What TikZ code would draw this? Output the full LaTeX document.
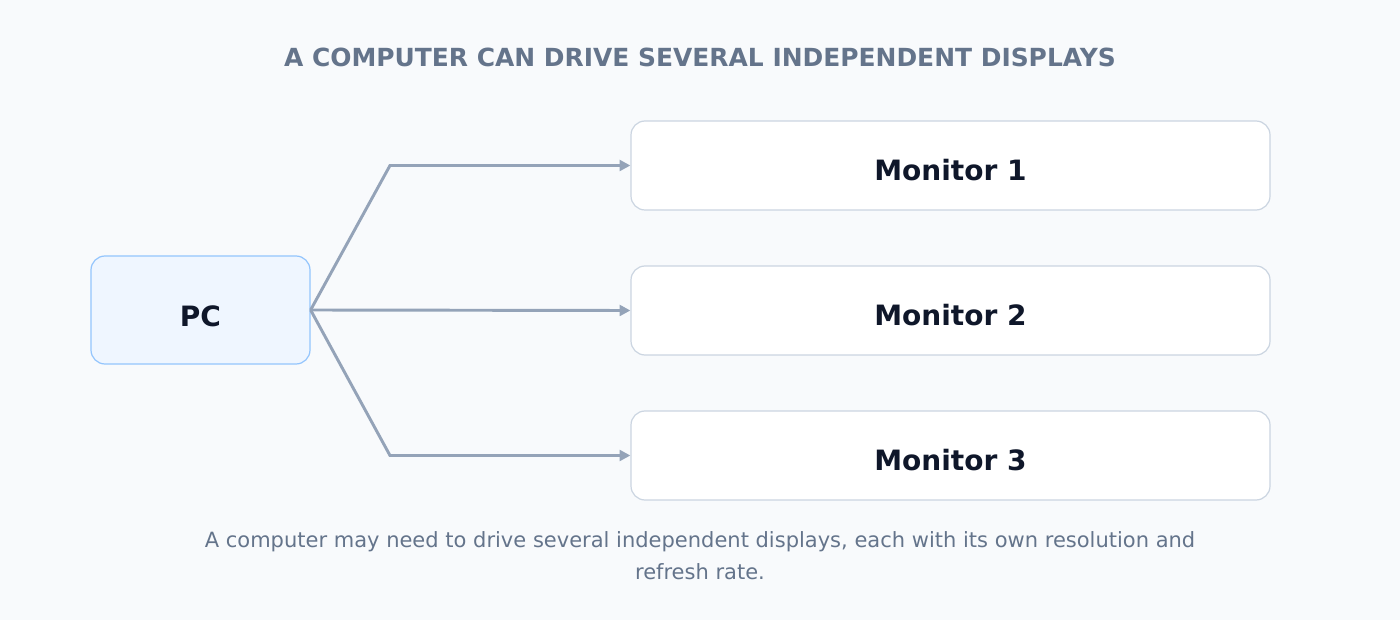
\documentclass[tikz,border=0pt]{standalone}
\usepackage{fontspec}
\setmainfont{DejaVu Sans}
\usetikzlibrary{arrows.meta}
\definecolor{bg}{HTML}{F8FAFC}
\definecolor{ttl}{HTML}{64748B}
\definecolor{pcf}{HTML}{EFF6FF}
\definecolor{pcd}{HTML}{93C5FD}
\definecolor{mnd}{HTML}{CBD5E1}
\definecolor{txt}{HTML}{0F172A}
\definecolor{arr}{HTML}{94A3B8}
\begin{document}
\begin{tikzpicture}[x=0.75pt,y=-0.75pt,
 box/.style={draw, rounded corners=10.5pt, line width=0.9pt, font=\fontsize{21}{24}\selectfont\bfseries, text=txt},
 lbl/.style={font=\fontsize{21}{24}\selectfont\bfseries, text=txt},
 conn/.style={draw=arr, line width=2.2pt, -{Triangle[length=8pt,width=8pt]}}]
\fill[bg] (0,0) rectangle (1400,620);
\useasboundingbox (0,0) rectangle (1400,620);
\node[font=\fontsize{18.7}{22}\selectfont\bfseries, text=ttl] (title) at (700,57) {A COMPUTER CAN DRIVE SEVERAL INDEPENDENT DISPLAYS};
\node[box, fill=pcf, draw=pcd, minimum width=219*0.75pt, minimum height=108*0.75pt] (pc) at (200.5,310) {};
\node[lbl] (pct) at (200.5,316) {PC};
\foreach \i/\y in {1/165.5,2/310.5,3/455.5}{
 \node[box, fill=white, draw=mnd, minimum width=639*0.75pt, minimum height=89*0.75pt] (m\i) at (950.5,\y) {};
 \node[lbl] (mt\i) at (950.5,\y+5) {Monitor \i};}
\coordinate (b1) at (390,165.5);
\coordinate (b3) at (390,455.5);
\draw[conn] (pc.east) -- (b1) -- (m1.west);
\draw[conn] (pc.east) -- (m2.west);
\draw[conn] (pc.east) -- (b3) -- (m3.west);
\node[font=\fontsize{15.75}{24}\selectfont, text=ttl, align=center] (cap) at (700,556) {A computer may need to drive several independent displays, each with its own resolution and\\refresh rate.};
\end{tikzpicture}
\end{document}
